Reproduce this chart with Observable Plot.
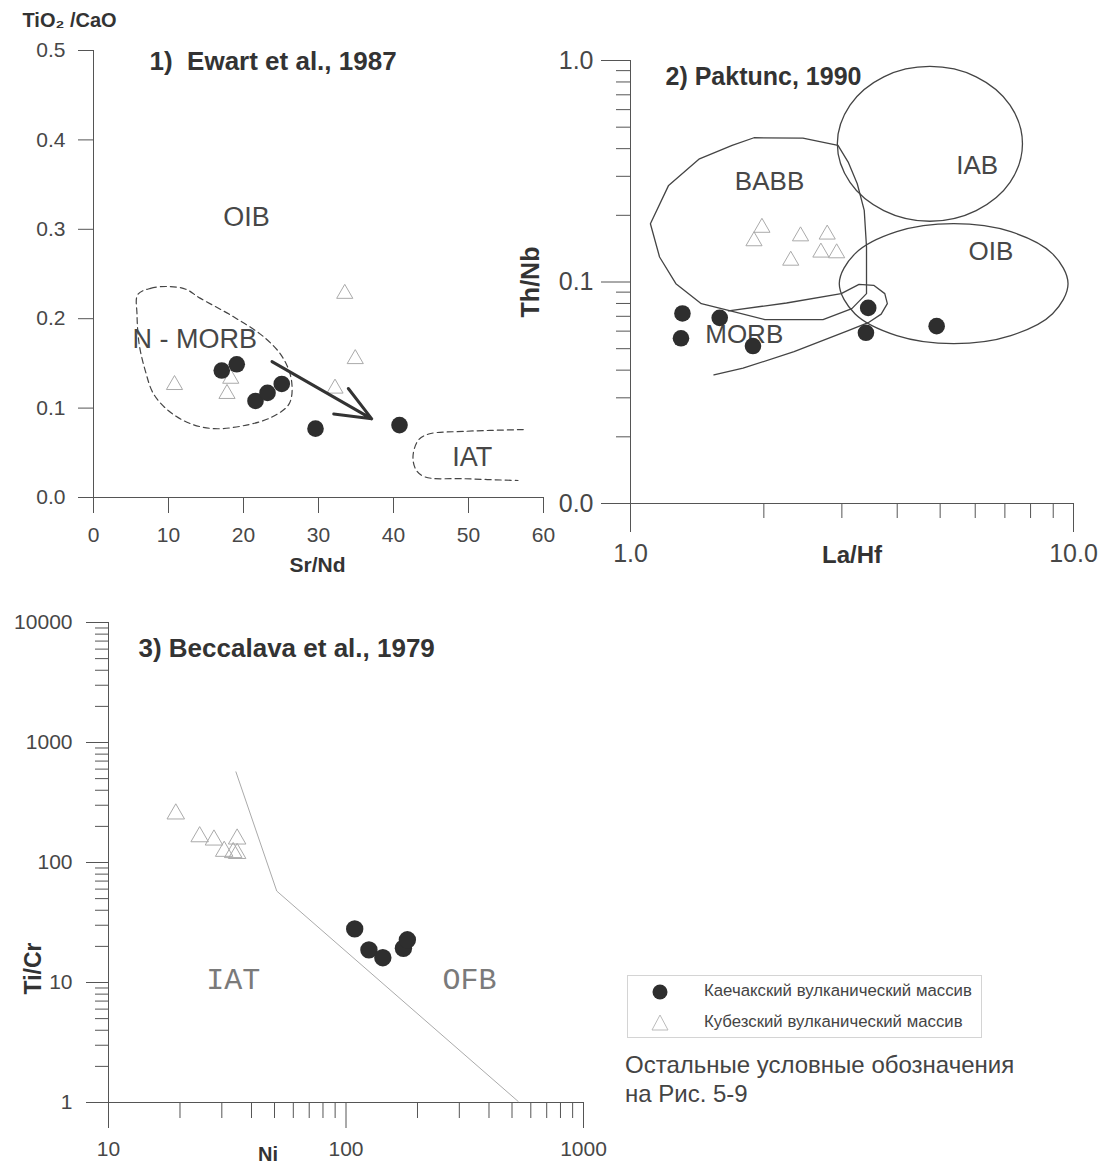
<!DOCTYPE html>
<html>
<head>
<meta charset="utf-8">
<script src="https://cdn.jsdelivr.net/npm/d3@7"></script>
<script src="https://cdn.jsdelivr.net/npm/@observablehq/plot@0.6"></script>
<style>
  html, body { margin: 0; padding: 0; background: #fff; }
  body { width: 1109px; height: 1169px; position: relative; overflow: hidden; font-family: "Liberation Sans", Arial, sans-serif; }
  .panel { position: absolute; }
  #legend { position: absolute; left: 627px; top: 975px; width: 355px; height: 63px; border: 1px solid #d4d4d4; box-sizing: border-box; font-size: 16.8px; color: #444; }
  #legend svg { position: absolute; left: 22px; }
  #legend span { position: absolute; left: 76px; white-space: nowrap; }
  #note { position: absolute; left: 625px; top: 1050px; font-size: 24px; line-height: 29px; color: #444; white-space: nowrap; }
</style>
</head>
<body>
<div id="p1" class="panel" style="left:0;top:0"></div>
<div id="p2" class="panel" style="left:480px;top:0"></div>
<div id="p3" class="panel" style="left:0;top:600px"></div>
<div id="legend">
  <svg style="top:6px" width="20" height="20"><circle cx="10" cy="10" r="7.5" fill="#2e2e2e"/></svg><span style="top:5px">Каечакский вулканический массив</span>
  <svg style="top:37px" width="20" height="20"><path d="M10,2 L18,17 L2,17 Z" fill="none" stroke="#bbb"/></svg><span style="top:36px">Кубезский вулканический массив</span>
</div>
<div id="note">Остальные условные обозначения<br>на Рис. 5-9</div>
<script>
// ---------- Panel 1: Ewart et al., 1987 (Sr/Nd vs TiO2/CaO) ----------
const p1XTicks = [0, 10, 20, 30, 40, 50, 60];
const p1YTicks = [0, 0.1, 0.2, 0.3, 0.4, 0.5];
const p1CircSrNd = [17.1, 19.1, 21.6, 23.2, 25.1, 29.6, 40.8];
const p1CircTiCa = [0.142, 0.149, 0.108, 0.117, 0.127, 0.077, 0.081];
const p1TriSrNd = [10.8, 18.3, 17.8, 32.2, 34.9, 33.5];
const p1TriTiCa = [0.126, 0.133, 0.116, 0.122, 0.155, 0.228];
const p1NmorbX = [5.9, 7.6, 10.0, 12.3, 14.2, 18.5, 22.8, 25.2, 26.4, 26.1, 23.8, 20.4, 16.1, 12.8, 10.0, 8.0, 6.9, 6.1, 5.8];
const p1NmorbY = [0.227, 0.234, 0.236, 0.233, 0.223, 0.203, 0.179, 0.157, 0.131, 0.105, 0.090, 0.081, 0.077, 0.083, 0.097, 0.116, 0.142, 0.171, 0.205];
const p1IatX = [57.3, 49.5, 44.7, 43.3, 42.6, 43.0, 44.2, 49.5, 56.6];
const p1IatY = [0.076, 0.074, 0.071, 0.064, 0.046, 0.031, 0.023, 0.021, 0.019];
const p1ArrowFrom = [23.8, 0.152];
const p1ArrowTo = [37.1, 0.088];
const p1Labels = ["OIB", "N - MORB", "IAT"];
const p1LabelX = [20.4, 13.5, 50.5];
const p1LabelY = [0.313, 0.177, 0.045];

// ---------- Panel 2: Paktunc, 1990 (La/Hf vs Th/Nb, log-log) ----------
const p2XMajor = [1, 10];
const p2XMinor = [2, 3, 4, 5, 6, 7, 8, 9];
const p2YMajor = [0.01, 0.1, 1];
const p2YMinor = [0.02, 0.03, 0.04, 0.05, 0.06, 0.07, 0.08, 0.09, 0.2, 0.3, 0.4, 0.5, 0.6, 0.7, 0.8, 0.9];
const p2CircLaHf = [1.31, 1.59, 1.30, 1.89, 3.44, 3.40, 4.91];
const p2CircThNb = [0.0721, 0.0689, 0.0557, 0.0514, 0.0764, 0.059, 0.0632];
const p2TriLaHf = [1.98, 1.90, 2.42, 2.78, 2.69, 2.92, 2.30];
const p2TriThNb = [0.176, 0.153, 0.161, 0.164, 0.136, 0.135, 0.125];
const p2BabbX = [2.94, 2.45, 1.90, 1.696, 1.431, 1.219, 1.109, 1.163, 1.266, 1.445, 1.664, 2.011, 2.72, 3.16, 3.41, 3.41, 3.37, 3.25, 3.10];
const p2BabbY = [0.4135, 0.4463, 0.448, 0.4135, 0.36, 0.273, 0.1833, 0.1297, 0.0983, 0.0798, 0.0745, 0.0676, 0.0676, 0.0758, 0.0886, 0.1438, 0.2105, 0.2777, 0.3477];
const p2MorbX = [1.664, 2.25, 2.99, 3.28, 3.54, 3.75, 3.80, 3.68, 3.44, 3.10, 2.34, 1.795, 1.543];
const p2MorbY = [0.0741, 0.0804, 0.0886, 0.0976, 0.0966, 0.0886, 0.0799, 0.0716, 0.0655, 0.0603, 0.0485, 0.0408, 0.0381];
const p2IabX = [7.67, 7.19, 6.03, 4.74, 3.73, 3.13, 2.93, 3.13, 3.73, 4.74, 6.03, 7.19];
const p2IabY = [0.421, 0.629, 0.844, 0.940, 0.844, 0.629, 0.421, 0.2815, 0.21, 0.188, 0.21, 0.2815];
const p2OibX = [9.72, 8.97, 7.22, 5.36, 3.99, 3.21, 2.96, 3.21, 3.99, 5.36, 7.22, 8.97];
const p2OibY = [0.0983, 0.134, 0.1687, 0.1834, 0.1687, 0.134, 0.0983, 0.0719, 0.0573, 0.0527, 0.0573, 0.0719];
const p2Labels = ["BABB", "IAB", "OIB", "MORB"];
const p2LabelX = [2.06, 6.06, 6.51, 1.806];
const p2LabelY = [0.2825, 0.336, 0.1365, 0.0576];

// ---------- Panel 3: Beccalava et al., 1979 (Ni vs Ti/Cr, log-log) ----------
const p3XMajor = [10, 100, 1000];
const p3XMinor = [20, 30, 40, 50, 60, 70, 80, 90, 200, 300, 400, 500, 600, 700, 800, 900];
const p3YMajor = [1, 10, 100, 1000, 10000];
const p3YMinor = [2, 3, 4, 5, 6, 7, 8, 9, 20, 30, 40, 50, 60, 70, 80, 90, 200, 300, 400, 500, 600, 700, 800, 900, 2000, 3000, 4000, 5000, 6000, 7000, 8000, 9000];
const p3CircNi = [108.8, 124.9, 142.9, 174.5, 181.3];
const p3CircTiCr = [27.97, 18.7, 16.1, 19.3, 22.7];
const p3TriNi = [19.2, 24.2, 27.8, 30.7, 33.5, 34.8, 34.8];
const p3TriTiCr = [254, 164, 154, 124, 121, 157, 119];
const p3BoundNi = [34.4, 51.1, 531];
const p3BoundTiCr = [569, 57.8, 1.02];
const p3Labels = ["IAT", "OFB"];
const p3LabelX = [33.5, 331];
const p3LabelY = [10.7, 10.7];

// ---------- helpers ----------
const pts = (xs, ys) => xs.map((x, i) => ({x, y: ys[i]}));
const labs = (ts, xs, ys) => ts.map((t, i) => ({t, x: xs[i], y: ys[i]}));
const FONT = "Liberation Sans, Arial, sans-serif";
const INK = "#474747";
const TITLE = "#333";
const AX = "#555";
const CIRC = "#2e2e2e";
const TRI = "#aaa";

// ---------- Panel 1 ----------
const p1 = Plot.plot({
  width: 560, height: 590,
  marginLeft: 93, marginRight: 17, marginTop: 50, marginBottom: 93,
  x: {domain: [0, 60]},
  y: {domain: [0, 0.5]},
  style: {fontFamily: FONT, fontSize: "21px", color: INK, background: "transparent", overflow: "visible"},
  marks: [
    Plot.axisX({ticks: p1XTicks, tickSize: 16, tickPadding: 14, tickFormat: d3.format("d"), label: null, stroke: AX}),
    Plot.axisY({ticks: p1YTicks, tickSize: 15, tickPadding: 13, tickFormat: d3.format(".1f"), label: null, stroke: AX}),
    Plot.ruleX([0], {stroke: AX}),
    Plot.ruleY([0], {stroke: AX}),
    Plot.line(pts(p1NmorbX, p1NmorbY), {x: "x", y: "y", curve: "catmull-rom-closed", stroke: "#444", strokeWidth: 1.2, strokeDasharray: "6,4"}),
    Plot.line(pts(p1IatX, p1IatY), {x: "x", y: "y", curve: "catmull-rom", stroke: "#444", strokeWidth: 1.2, strokeDasharray: "6,4"}),
    Plot.text(labs(p1Labels, p1LabelX, p1LabelY), {x: "x", y: "y", text: "t", fontSize: 27, fill: INK}),
    Plot.dot(pts(p1TriSrNd, p1TriTiCa), {x: "x", y: "y", symbol: "triangle", r: 6, stroke: TRI, fill: "none", strokeWidth: 1}),
    Plot.dot(pts(p1CircSrNd, p1CircTiCa), {x: "x", y: "y", r: 8.3, fill: CIRC}),
    Plot.arrow([{x1: p1ArrowFrom[0], y1: p1ArrowFrom[1], x2: p1ArrowTo[0], y2: p1ArrowTo[1]}], {x1: "x1", y1: "y1", x2: "x2", y2: "y2", stroke: "#333", strokeWidth: 3, headLength: 24, headAngle: 45}),
    Plot.text(["1)  Ewart et al., 1987"], {text: d => d, frameAnchor: "top-left", lineAnchor: "middle", dx: 56, dy: 11, textAnchor: "start", fontWeight: "bold", fontSize: 26, fill: TITLE}),
    Plot.text(["TiO₂ /CaO"], {text: d => d, frameAnchor: "top-left", lineAnchor: "middle", dx: -71, dy: -30, textAnchor: "start", fontWeight: "bold", fontSize: 20, fill: TITLE}),
    Plot.text(["Sr/Nd"], {text: d => d, frameAnchor: "bottom", lineAnchor: "middle", textAnchor: "middle", dx: -1, dy: 68, fontWeight: "bold", fontSize: 21, fill: TITLE})
  ]
});
document.getElementById("p1").append(p1);

// ---------- Panel 2 ----------
const p2 = Plot.plot({
  width: 629, height: 590,
  marginLeft: 150, marginRight: 36, marginTop: 60, marginBottom: 87,
  x: {type: "log", domain: [1, 10]},
  y: {type: "log", domain: [0.01, 1]},
  style: {fontFamily: FONT, fontSize: "25px", color: INK, background: "transparent", overflow: "visible"},
  marks: [
    Plot.axisX(p2XMajor, {tickSize: 29, tickPadding: 12, tickFormat: d3.format(".1f"), label: null, stroke: AX}),
    Plot.axisX(p2XMinor, {tickSize: 15, tickFormat: () => "", label: null, stroke: AX}),
    Plot.axisY(p2YMajor, {tickSize: 29, tickPadding: 8, tickFormat: d3.format(".1f"), label: null, stroke: AX}),
    Plot.axisY(p2YMinor, {tickSize: 14, tickFormat: () => "", label: null, stroke: AX}),
    Plot.ruleX([1], {stroke: AX}),
    Plot.ruleY([0.01], {stroke: AX}),
    Plot.line(pts(p2BabbX, p2BabbY), {x: "x", y: "y", curve: "linear-closed", stroke: "#444", strokeWidth: 1.3}),
    Plot.line(pts(p2MorbX, p2MorbY), {x: "x", y: "y", curve: "linear", stroke: "#444", strokeWidth: 1.3}),
    Plot.line(pts(p2IabX, p2IabY), {x: "x", y: "y", curve: "catmull-rom-closed", stroke: "#444", strokeWidth: 1.3}),
    Plot.line(pts(p2OibX, p2OibY), {x: "x", y: "y", curve: "catmull-rom-closed", stroke: "#444", strokeWidth: 1.3}),
    Plot.text(labs(p2Labels, p2LabelX, p2LabelY), {x: "x", y: "y", text: "t", fontSize: 26, fill: INK}),
    Plot.dot(pts(p2TriLaHf, p2TriThNb), {x: "x", y: "y", symbol: "triangle", r: 6, stroke: TRI, fill: "none", strokeWidth: 1}),
    Plot.dot(pts(p2CircLaHf, p2CircThNb), {x: "x", y: "y", r: 8.3, fill: CIRC}),
    Plot.text(["2) Paktunc, 1990"], {text: d => d, frameAnchor: "top-left", lineAnchor: "middle", dx: 35, dy: 16, textAnchor: "start", fontWeight: "bold", fontSize: 25, fill: TITLE}),
    Plot.text(["Th/Nb"], {text: d => d, frameAnchor: "left", lineAnchor: "middle", textAnchor: "middle", dx: -100, rotate: -90, fontWeight: "bold", fontSize: 25, fill: TITLE}),
    Plot.text(["La/Hf"], {text: d => d, frameAnchor: "bottom", lineAnchor: "middle", textAnchor: "middle", dx: 0, dy: 52, fontWeight: "bold", fontSize: 24, fill: TITLE})
  ]
});
document.getElementById("p2").append(p2);

// ---------- Panel 3 ----------
const p3 = Plot.plot({
  width: 620, height: 569,
  marginLeft: 108, marginRight: 37, marginTop: 22, marginBottom: 67,
  x: {type: "log", domain: [10, 1000]},
  y: {type: "log", domain: [1, 10000]},
  style: {fontFamily: FONT, fontSize: "21px", color: INK, background: "transparent", overflow: "visible"},
  marks: [
    Plot.axisX(p3XMajor, {tickSize: 26, tickPadding: 13, tickFormat: d3.format("d"), label: null, stroke: AX}),
    Plot.axisX(p3XMinor, {tickSize: 16, tickFormat: () => "", label: null, stroke: AX}),
    Plot.axisY(p3YMajor, {tickSize: 22, tickPadding: 14, tickFormat: d3.format("d"), label: null, stroke: AX}),
    Plot.axisY(p3YMinor, {tickSize: 13, tickFormat: () => "", label: null, stroke: AX}),
    Plot.ruleX([10], {stroke: AX}),
    Plot.ruleY([1], {stroke: AX}),
    Plot.line(pts(p3BoundNi, p3BoundTiCr), {x: "x", y: "y", stroke: "#aaa", strokeWidth: 1}),
    Plot.text(labs(p3Labels, p3LabelX, p3LabelY), {x: "x", y: "y", text: "t", fontSize: 30, fontFamily: "Liberation Mono, Courier New, monospace", fill: "#7a7a7a"}),
    Plot.dot(pts(p3TriNi, p3TriTiCr), {x: "x", y: "y", symbol: "triangle", r: 6.5, stroke: TRI, fill: "none", strokeWidth: 1}),
    Plot.dot(pts(p3CircNi, p3CircTiCr), {x: "x", y: "y", r: 8.7, fill: CIRC}),
    Plot.text(["3) Beccalava et al., 1979"], {text: d => d, frameAnchor: "top-left", lineAnchor: "middle", dx: 30, dy: 26, textAnchor: "start", fontWeight: "bold", fontSize: 26, fill: TITLE}),
    Plot.text(["Ti/Cr"], {text: d => d, frameAnchor: "left", lineAnchor: "middle", textAnchor: "middle", dx: -75, dy: 106, rotate: -90, fontWeight: "bold", fontSize: 23, fill: TITLE}),
    Plot.text(["Ni"], {text: d => d, frameAnchor: "bottom", lineAnchor: "middle", textAnchor: "middle", dx: -78, dy: 52, fontWeight: "bold", fontSize: 20, fill: TITLE})
  ]
});
document.getElementById("p3").append(p3);
</script>
</body>
</html>
